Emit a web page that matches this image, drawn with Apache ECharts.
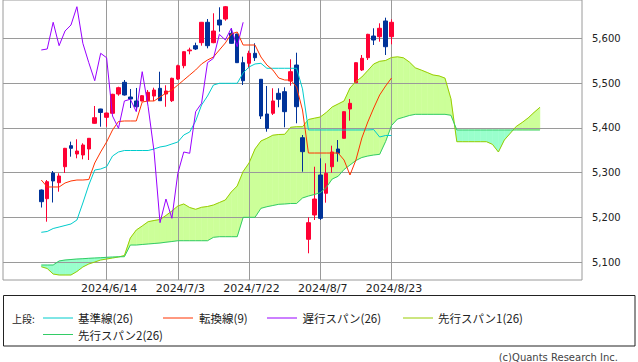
<!DOCTYPE html>
<html><head><meta charset="utf-8">
<script src="https://cdn.jsdelivr.net/npm/echarts@6/dist/echarts.min.js"></script>
<style>html,body{margin:0;padding:0;background:#fff}#c{width:638px;height:362px}</style>
</head><body><div id="c"></div>
<script>
// ---- data ----
const dates = [
 '2024/5/30','2024/5/31','2024/6/3','2024/6/4','2024/6/5','2024/6/6','2024/6/7','2024/6/10','2024/6/11','2024/6/12','2024/6/13','2024/6/14',
 '2024/6/18','2024/6/19','2024/6/20','2024/6/21','2024/6/24','2024/6/25','2024/6/26','2024/6/27','2024/6/28','2024/7/1','2024/7/2','2024/7/3',
 '2024/7/4','2024/7/5','2024/7/8','2024/7/9','2024/7/10','2024/7/11','2024/7/12','2024/7/16','2024/7/17','2024/7/18','2024/7/19','2024/7/22',
 '2024/7/23','2024/7/24','2024/7/25','2024/7/26','2024/7/29','2024/7/30','2024/7/31','2024/8/1','2024/8/2','2024/8/5','2024/8/6','2024/8/7',
 '2024/8/8','2024/8/9','2024/8/12','2024/8/13','2024/8/14','2024/8/15','2024/8/16','2024/8/19','2024/8/20','2024/8/21','2024/8/22','2024/8/23'
];
const tickLabels = ['2024/6/14','2024/7/3','2024/7/22','2024/8/7','2024/8/23'];
const yTicks = [5100,5200,5300,5400,5500,5600];

const open = [5260.9,5241.5,5298.9,5277.3,5313.0,5360.0,5341.4,5339.2,5352.6,5410.0,
 5442.0,5423.4,5432.4,5475.5,5501.7,5468.8,5459.9,5459.9,5460.5,5471.0,
 5488.2,5475.5,5460.5,5509.0,5538.8,5572.0,5583.5,5590.2,5635.8,5590.2,
 5640.9,5643.1,5611.2,5609.6,5545.5,5544.1,5566.5,5508.4,5430.8,5432.4,
 5477.1,5480.7,5504.6,5540.3,5377.8,5150.8,5205.1,5294.5,5253.6,5313.0,
 5352.6,5376.5,5442.0,5500.8,5529.2,5556.6,5605.1,5603.6,5638.7,5603.6];
const close = [5234.8,5279.5,5281.1,5292.2,5354.1,5354.1,5348.1,5361.5,5376.5,5422.5,
 5434.2,5433.0,5474.8,5489.6,5473.3,5464.3,5447.1,5471.7,5479.3,5484.4,
 5460.5,5482.2,5510.6,5538.8,5570.1,5573.9,5576.1,5635.8,5583.5,5616.3,
 5629.7,5670.6,5588.8,5545.5,5505.2,5566.5,5556.6,5426.3,5398.8,5459.9,
 5463.7,5436.0,5525.4,5447.1,5346.6,5187.9,5240.8,5197.7,5298.3,5345.9,
 5343.0,5436.0,5454.7,5545.5,5555.3,5608.9,5596.2,5622.4,5581.2,5635.8];
const low = [5221.8,5190.1,5233.0,5257.2,5299.0,5335.4,5331.8,5329.6,5328.0,5409.0,
 5402.4,5402.4,5431.0,5471.7,5472.0,5444.2,5437.5,5459.0,5454.7,5460.0,
 5460.0,5447.0,5457.6,5507.0,5533.0,5564.2,5573.9,5583.5,5577.6,5589.0,
 5614.8,5639.3,5588.0,5545.0,5495.6,5533.0,5549.3,5419.6,5391.3,5428.6,
 5445.8,5401.1,5494.1,5410.0,5301.8,5119.5,5193.9,5193.9,5232.6,5299.6,
 5324.2,5376.0,5415.8,5500.0,5527.0,5551.5,5585.0,5592.4,5562.7,5586.6];
const high = [5262.0,5283.3,5303.4,5298.3,5355.0,5369.0,5374.3,5365.3,5377.0,5448.7,
 5442.5,5434.0,5476.0,5491.8,5506.8,5486.7,5489.0,5473.0,5484.4,5489.6,
 5525.3,5495.0,5512.0,5541.0,5571.0,5579.0,5590.2,5636.5,5643.1,5655.9,
 5669.3,5672.2,5622.4,5610.0,5558.9,5572.3,5588.8,5509.0,5493.4,5488.3,
 5488.3,5490.5,5553.1,5567.8,5383.9,5200.0,5313.0,5331.8,5320.6,5360.0,
 5372.7,5437.0,5464.3,5546.0,5562.7,5610.0,5622.4,5633.5,5646.1,5642.5];

const tenkan = [5283.3,5267.7,5267.7,5267.7,5276.6,5281.1,5283.3,5283.3,5284.4,5321.3,
 5345.9,5368.2,5395.1,5414.0,5415.2,5415.2,5415.2,5457.6,5459.9,5459.9,
 5468.8,5477.7,5484.4,5495.6,5506.8,5518.0,5529.2,5542.6,5551.5,5558.2,
 5573.9,5589.5,5609.6,5614.1,5585.0,5585.0,5585.0,5558.2,5540.3,5529.2,
 5511.3,5506.8,5506.8,5491.2,5439.8,5343.6,5343.6,5343.6,5343.6,5343.6,
 5343.6,5328.0,5294.5,5328.0,5377.2,5412.9,5444.2,5473.3,5493.4,5511.3];
const kijun = [5166.4,5168.2,5174.9,5178.2,5181.6,5185.0,5193.9,5231.9,5272.1,5305.6,
 5307.9,5313.0,5336.9,5345.9,5349.2,5349.2,5349.2,5349.2,5349.2,5352.6,
 5357.1,5359.3,5363.8,5368.2,5383.9,5390.6,5415.2,5450.9,5471.0,5495.6,
 5499.4,5499.4,5499.4,5499.4,5522.4,5535.9,5542.6,5544.1,5533.0,5533.0,
 5533.0,5533.0,5533.0,5533.0,5487.0,5395.1,5395.1,5395.1,5395.1,5395.1,
 5395.1,5395.1,5395.1,5395.1,5395.1,5395.1,5395.9,5379.4,5382.8,5382.8];
const chikou = [5573.9,5576.1,5635.8,5583.5,5616.3,5629.7,5670.6,5588.8,5545.5,5505.2,
 5566.5,5556.6,5426.3,5398.8,5459.9,5463.7,5436.0,5525.4,5447.1,5346.6,
 5187.9,5240.8,5197.7,5298.3,5345.9,5343.0,5436.0,5454.7,5545.5,5555.3,
 5608.9,5596.2,5622.4,5581.2,5635.8];
const span1 = [5089.5,5085.5,5073.2,5071.0,5071.0,5071.0,5078.8,5088.9,5095.6,5100.0,
 5104.5,5106.7,5109.0,5111.2,5114.6,5153.7,5171.5,5180.5,5190.1,5192.8,
 5195.0,5204.0,5214.0,5225.2,5229.7,5221.8,5217.8,5222.3,5224.1,5227.4,
 5233.0,5238.6,5256.5,5269.9,5302.3,5321.3,5352.6,5370.5,5376.5,5383.4,
 5385.0,5385.4,5401.1,5402.4,5402.4,5418.5,5421.4,5424.1,5434.2,5446.5,
 5453.2,5459.9,5488.9,5503.4,5513.5,5528.0,5542.6,5548.6,5550.4,5557.1,
 5558.6,5556.4,5547.0,5534.0,5529.0,5523.6,5518.0,5516.0,5511.0,5465.0,
 5368.9,5368.9,5368.9,5368.9,5368.9,5368.9,5363.0,5345.9,5372.7,5387.7,
 5402.9,5411.8,5421.9,5434.2,5445.8];
const span2 = [5093.3,5093.3,5093.3,5102.3,5104.5,5105.6,5106.7,5107.4,5108.3,5109.0,
 5109.6,5110.5,5111.2,5111.7,5111.9,5138.0,5138.0,5139.2,5140.3,5141.4,
 5142.5,5144.3,5145.8,5147.6,5147.6,5147.6,5147.6,5147.6,5147.6,5155.2,
 5156.6,5156.6,5156.6,5156.6,5199.9,5199.9,5199.9,5220.0,5223.6,5226.3,
 5229.0,5229.7,5230.8,5230.8,5243.1,5247.5,5250.9,5254.9,5266.5,5285.5,
 5291.6,5306.8,5316.8,5326.9,5333.6,5336.9,5339.2,5340.7,5369.3,5405.1,
 5419.6,5423.4,5427.5,5430.1,5430.1,5430.1,5430.1,5430.1,5430.1,5428.0,
 5395.1,5395.1,5395.1,5395.1,5395.1,5395.1,5395.1,5395.1,5395.1,5395.1,
 5395.1,5395.1,5395.1,5395.1,5395.1];

const legendNames = ['基準線(26)','転換線(9)','遅行スパン(26)','先行スパン1(26)','先行スパン2(26)'];
const lineColors = ['#00cccc','#ff3300','#9900ff','#99cc00','#33cc66'];

// ---- build ----
const PAD_L = 6, TOTAL = 98;
const cats = [];
for (let i = 0; i < TOTAL; i++) {
  const d = i - PAD_L;
  cats.push(d >= 0 && d < dates.length ? dates[d] : ('_' + i));
}
function pad(arr) {
  const out = new Array(TOTAL).fill('-');
  arr.forEach((v, i) => { out[i + PAD_L] = v; });
  return out;
}
const candleData = new Array(TOTAL).fill(null).map(() => ['-','-','-','-']);
for (let i = 0; i < open.length; i++) candleData[i + PAD_L] = [open[i], close[i], low[i], high[i]];
const cloudData = [];
for (let i = 0; i < span1.length - 1; i++) cloudData.push([i + PAD_L, span1[i], span2[i], span1[i+1], span2[i+1]]);

const YMIN = 5059.8, YMAX = 5685.6;
const showLab = (idx, val) => tickLabels.indexOf(val) >= 0;
const GRAY = '#9a9a9a';
const LF = '"Noto Sans CJK JP", "Noto Sans", sans-serif';

const chart = echarts.init(document.getElementById('c'), null, {renderer: 'svg'});

const legendY1 = 318, legendY2 = 334.5;
const legendPos = [[43, 78, legendY1], [163, 199, legendY1], [267, 302.5, legendY1], [403, 438, legendY1], [43, 78, legendY2]];
const graphic = [
  {type: 'rect', shape: {x: 3.5, y: 295.5, width: 631.5, height: 50.5}, style: {fill: 'none', stroke: '#222', lineWidth: 1}},
  {type: 'text', x: 12, y: legendY1, style: {text: '上段:', font: '10px ' + LF, fill: '#222', textVerticalAlign: 'middle', verticalAlign: 'middle'}},
  {type: 'text', x: 618, y: 357, style: {text: '(c)Quants Research Inc.', font: '10px "DejaVu Sans"', fill: '#444', textAlign: 'right', align: 'right', textVerticalAlign: 'middle', verticalAlign: 'middle'}}
];
legendPos.forEach((p, k) => {
  graphic.push({type: 'line', shape: {x1: p[0], y1: p[2], x2: p[0] + 30, y2: p[2]}, style: {stroke: lineColors[k], lineWidth: 1}});
  graphic.push({type: 'text', x: p[1], y: p[2], style: {text: legendNames[k], font: '11.5px ' + LF, fill: '#222', textVerticalAlign: 'middle', verticalAlign: 'middle'}});
});

function lineSeries(name, data, color) {
  return {name, type: 'line', xAxisIndex: 1, yAxisIndex: 1, data: pad(data), showSymbol: false, symbol: 'none',
    silent: true, lineStyle: {color, width: 1}, itemStyle: {color}, connectNulls: false};
}

chart.setOption({
  animation: false,
  backgroundColor: '#fff',
  grid: [
    {left: 3, top: 0, right: 56, bottom: 82, show: true, borderColor: GRAY, borderWidth: 1, backgroundColor: 'transparent', containLabel: false},
    {left: 5.68, top: 0, right: 56.5, bottom: 82, containLabel: false}
  ],
  xAxis: [
    {gridIndex: 0, type: 'value', min: 0, max: 1, show: false},
    {gridIndex: 1, type: 'category', data: cats, boundaryGap: false,
      axisLine: {show: false}, axisTick: {show: false},
      axisLabel: {interval: showLab, color: '#222', fontSize: 11, fontFamily: 'DejaVu Sans', margin: 3, padding: [0, 0, 0, 5]},
      splitLine: {show: true, interval: showLab, lineStyle: {color: GRAY, width: 1}}}
  ],
  yAxis: [
    {gridIndex: 0, type: 'value', position: 'right', min: YMIN, max: YMAX,
      axisLine: {show: false},
      axisTick: {show: true, length: 5, customValues: yTicks, lineStyle: {color: GRAY}},
      axisLabel: {customValues: yTicks, margin: 10, fontSize: 10, fontFamily: 'DejaVu Sans', color: '#222',
        formatter: v => String(v).replace(/\B(?=(\d{3})+(?!\d))/g, ',')},
      splitLine: {show: true, lineStyle: {color: GRAY, width: 1}}},
    {gridIndex: 1, type: 'value', min: YMIN, max: YMAX, show: false}
  ],
  graphic,
  series: [
    {type: 'custom', name: 'cloud', xAxisIndex: 1, yAxisIndex: 1, z: -1, silent: true, clip: true,
      data: cloudData, encode: {x: 0, y: [1, 2]},
      renderItem: function (params, api) {
        const x0 = api.value(0);
        const a0 = api.value(1), b0 = api.value(2), a1 = api.value(3), b1 = api.value(4);
        const A0 = api.coord([x0, a0]), B0 = api.coord([x0, b0]);
        const A1 = api.coord([x0 + 1, a1]), B1 = api.coord([x0 + 1, b1]);
        const C1 = '#ccff99', C2 = '#99ffcc';
        const poly = (pts, c) => ({type: 'polygon', shape: {points: pts}, style: {fill: c, stroke: c, lineWidth: 0.5}});
        const d0 = a0 - b0, d1 = a1 - b1;
        if (d0 * d1 >= 0) return poly([A0, A1, B1, B0], (d0 + d1) >= 0 ? C1 : C2);
        const t = d0 / (d0 - d1);
        const C = [A0[0] + t * (A1[0] - A0[0]), A0[1] + t * (A1[1] - A0[1])];
        return {type: 'group', children: [poly([A0, C, B0], d0 > 0 ? C1 : C2), poly([C, A1, B1], d1 > 0 ? C1 : C2)]};
      }},
    lineSeries(legendNames[3], span1, lineColors[3]),
    lineSeries(legendNames[4], span2, lineColors[4]),
    lineSeries(legendNames[0], kijun, lineColors[0]),
    lineSeries(legendNames[1], tenkan, lineColors[1]),
    lineSeries(legendNames[2], chikou, lineColors[2]),
    {type: 'candlestick', name: 'price', xAxisIndex: 1, yAxisIndex: 1, data: candleData, barWidth: 4, silent: true,
      itemStyle: {color: '#ff0033', color0: '#003399', borderColor: '#ff0033', borderColor0: '#003399', borderWidth: 1}}
  ]
});
</script>
</body></html>
